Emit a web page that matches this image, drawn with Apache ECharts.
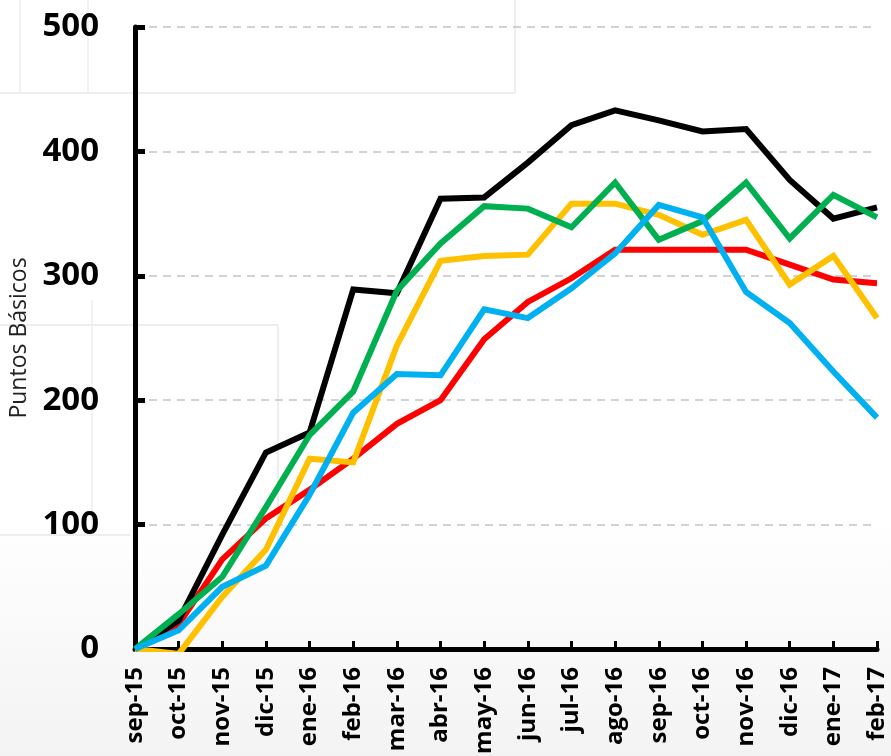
<!DOCTYPE html>
<html>
<head>
<meta charset="utf-8">
<script src="https://cdn.jsdelivr.net/npm/echarts@6/dist/echarts.min.js"></script>
<style>
  html, body { margin: 0; padding: 0; background: #fff; }
  #chart { width: 891px; height: 756px; }
</style>
</head>
<body>
<div id="chart"></div>
<script>
var months = ['sep-15', 'oct-15', 'nov-15', 'dic-15', 'ene-16', 'feb-16', 'mar-16', 'abr-16', 'may-16',
  'jun-16', 'jul-16', 'ago-16', 'sep-16', 'oct-16', 'nov-16', 'dic-16', 'ene-17', 'feb-17']

var serieRoja = [0, 20, 72, 105, 128, 153, 181, 200, 249, 279, 298, 321, 321, 321, 321, 309, 297, 294]
var serieAmarilla = [0, -4, 42, 80, 153, 150, 244, 312, 316, 317, 358, 358, 349, 333, 345, 293, 316, 266]
var serieNegra = [0, 23, 92, 158, 174, 289, 286, 362, 363, 391, 421, 433, 425, 416, 418, 377, 346, 355]
var serieVerde = [0, 28, 58, 114, 172, 207, 288, 326, 356, 354, 339, 375, 329, 344, 375, 330, 365, 347]
var serieAzul = [0, 15, 50, 67, 124, 190, 221, 220, 273, 266, 290, 318, 357, 347, 287, 262, 223, 186]

var yTicks = [0, 100, 200, 300, 400, 500]

function linea (datos, color) {
  return {
    type: 'line',
    data: datos,
    showSymbol: false,
    symbol: 'none',
    smooth: false,
    clip: true,
    lineStyle: { color: color, width: 6, join: 'miter' },
    itemStyle: { color: color },
    emphasis: { disabled: true }
  }
}

var chart = echarts.init(document.getElementById('chart'))
chart.setOption({
  animation: false,
  backgroundColor: '#fff',
  // restos del fondo de la diapositiva
  graphic: [
    {
      type: 'rect', z: -10, silent: true,
      shape: { x: 0, y: 520, width: 891, height: 236 },
      style: {
        fill: { type: 'linear', x: 0, y: 0, x2: 0, y2: 1,
          colorStops: [{ offset: 0, color: '#ffffff' }, { offset: 1, color: '#f3f3f3' }] }
      }
    },
    { type: 'line', z: -9, silent: true, shape: { x1: 0, y1: 93, x2: 515, y2: 93 }, style: { stroke: '#e8e8e8', lineWidth: 1.5 } },
    { type: 'line', z: -9, silent: true, shape: { x1: 515, y1: 0, x2: 515, y2: 93 }, style: { stroke: '#e8e8e8', lineWidth: 1.5 } },
    { type: 'line', z: -9, silent: true, shape: { x1: 20, y1: 0, x2: 20, y2: 93 }, style: { stroke: '#eeeeee', lineWidth: 1.5 } },
    { type: 'line', z: -9, silent: true, shape: { x1: 88, y1: 0, x2: 88, y2: 93 }, style: { stroke: '#eeeeee', lineWidth: 1.5 } },
    { type: 'line', z: -9, silent: true, shape: { x1: 0, y1: 325, x2: 278, y2: 325 }, style: { stroke: '#e8e8e8', lineWidth: 1.5 } },
    { type: 'line', z: -9, silent: true, shape: { x1: 278, y1: 325, x2: 278, y2: 540 }, style: { stroke: '#e8e8e8', lineWidth: 1.5 } },
    { type: 'line', z: -9, silent: true, shape: { x1: 92, y1: 300, x2: 92, y2: 535 }, style: { stroke: '#eeeeee', lineWidth: 1.5 } },
    { type: 'line', z: -9, silent: true, shape: { x1: 0, y1: 535, x2: 130, y2: 535 }, style: { stroke: '#e8e8e8', lineWidth: 1.5 } }
  ],
  grid: {
    left: 135,
    right: 14,
    top: 27,
    bottom: 107,
    containLabel: false,
    outerBoundsMode: 'none'
  },
  xAxis: {
    type: 'category',
    data: months,
    boundaryGap: false,
    axisLine: { show: true, lineStyle: { color: '#000', width: 5 } },
    axisTick: { show: true, inside: true, length: 8, alignWithLabel: true, lineStyle: { color: '#000', width: 3 } },
    axisLabel: {
      rotate: 90,
      interval: 0,
      margin: 18,
      color: '#000',
      fontFamily: 'Open Sans',
      fontWeight: 'bold',
      fontSize: 24
    },
    splitLine: { show: false }
  },
  yAxis: {
    type: 'value',
    min: yTicks[0],
    max: yTicks[yTicks.length - 1],
    interval: 100,
    name: 'Puntos Básicos',
    nameLocation: 'middle',
    nameGap: 104,
    nameRotate: 90,
    nameTextStyle: { color: '#222', fontFamily: 'Open Sans', fontSize: 23 },
    axisLine: { show: true, lineStyle: { color: '#000', width: 5 } },
    axisTick: { show: true, inside: true, length: 10, lineStyle: { color: '#000', width: 5 } },
    axisLabel: {
      margin: 36,
      color: '#000',
      fontFamily: 'Open Sans',
      fontWeight: 'bold',
      fontSize: 33
    },
    splitLine: { show: true, lineStyle: { color: '#c4c4c4', width: 1.5, type: [8, 6] } }
  },
  series: [
    linea(serieRoja, '#ff0000'),
    linea(serieAmarilla, '#ffc000'),
    linea(serieNegra, '#000000'),
    linea(serieVerde, '#00b050'),
    linea(serieAzul, '#00b0f0')
  ]
})
</script>
</body>
</html>
